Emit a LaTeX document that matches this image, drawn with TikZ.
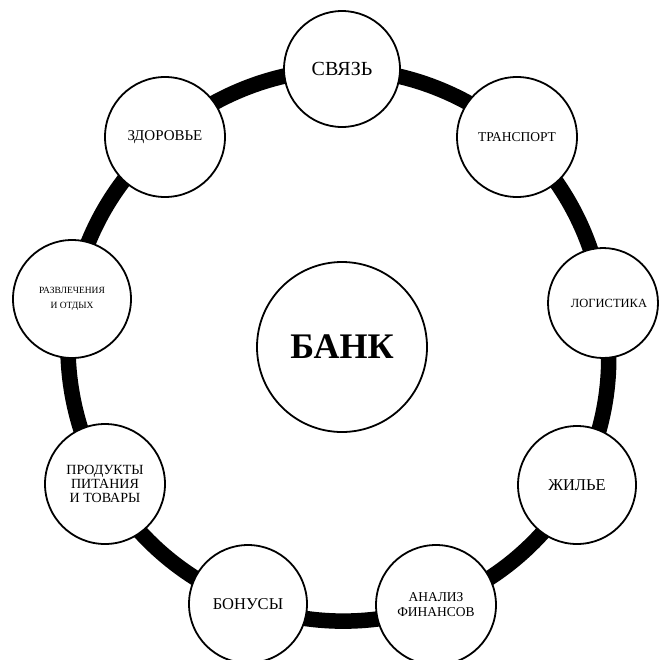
\documentclass[tikz,border=0pt]{standalone}
\usepackage{fontspec}
\setmainfont{Liberation Serif}
\usetikzlibrary{backgrounds}
\tikzset{
  topic/.style={circle, draw=black, line width=1.8pt, fill=white, inner sep=0pt, align=center, text=black},
  ring/.style={line width=15.5pt, draw=black, bend left=20, looseness=0.88}
}
\begin{document}
\begin{tikzpicture}[x=1pt,y=-1pt]
\useasboundingbox (0,0) rectangle (660,659);
\node[topic, minimum size=116pt, font=\fontsize{20}{22}\selectfont] (svyaz) at (342,69) {СВЯЗЬ};
\node[topic, minimum size=120pt, font=\fontsize{13.5}{15}\selectfont] (transport) at (517,137) {ТРАНСПОРТ};
\node[topic, minimum size=110pt, font=\fontsize{12.5}{14}\selectfont] (logistika) at (603,303) {\hspace*{12pt}ЛОГИСТИКА};
\node[topic, minimum size=118pt, font=\fontsize{16.5}{18}\selectfont] (zhilye) at (577,485) {ЖИЛЬЕ};
\node[topic, minimum size=120pt, font=\fontsize{13.5}{15}\selectfont] (analiz) at (436,605) {АНАЛИЗ\\ФИНАНСОВ};
\node[topic, minimum size=118pt, font=\fontsize{16.5}{18}\selectfont] (bonusy) at (248,604) {БОНУСЫ};
\node[topic, minimum size=120pt, font=\fontsize{14}{14}\selectfont] (produkty) at (105,484) {ПРОДУКТЫ\\ПИТАНИЯ\\И ТОВАРЫ};
\node[topic, minimum size=118pt, font=\fontsize{9.5}{15}\selectfont] (razvl) at (72,299) {РАЗВЛЕЧЕНИЯ\\И ОТДЫХ};
\node[topic, minimum size=120pt, font=\fontsize{15}{17}\selectfont] (zdorovye) at (165,137) {ЗДОРОВЬЕ};
\node[topic, minimum size=170pt, font=\fontsize{36}{40}\selectfont\bfseries] (bank) at (342,347) {БАНК};
\begin{scope}[on background layer]
\draw[ring] (svyaz.center) to (transport.center);
\draw[ring] (transport.center) to (logistika.center);
\draw[ring] (logistika.center) to (zhilye.center);
\draw[ring] (zhilye.center) to (analiz.center);
\draw[ring] (analiz.center) to (bonusy.center);
\draw[ring] (bonusy.center) to (produkty.center);
\draw[ring] (produkty.center) to (razvl.center);
\draw[ring] (razvl.center) to (zdorovye.center);
\draw[ring] (zdorovye.center) to (svyaz.center);
\end{scope}
\end{tikzpicture}
\end{document}
